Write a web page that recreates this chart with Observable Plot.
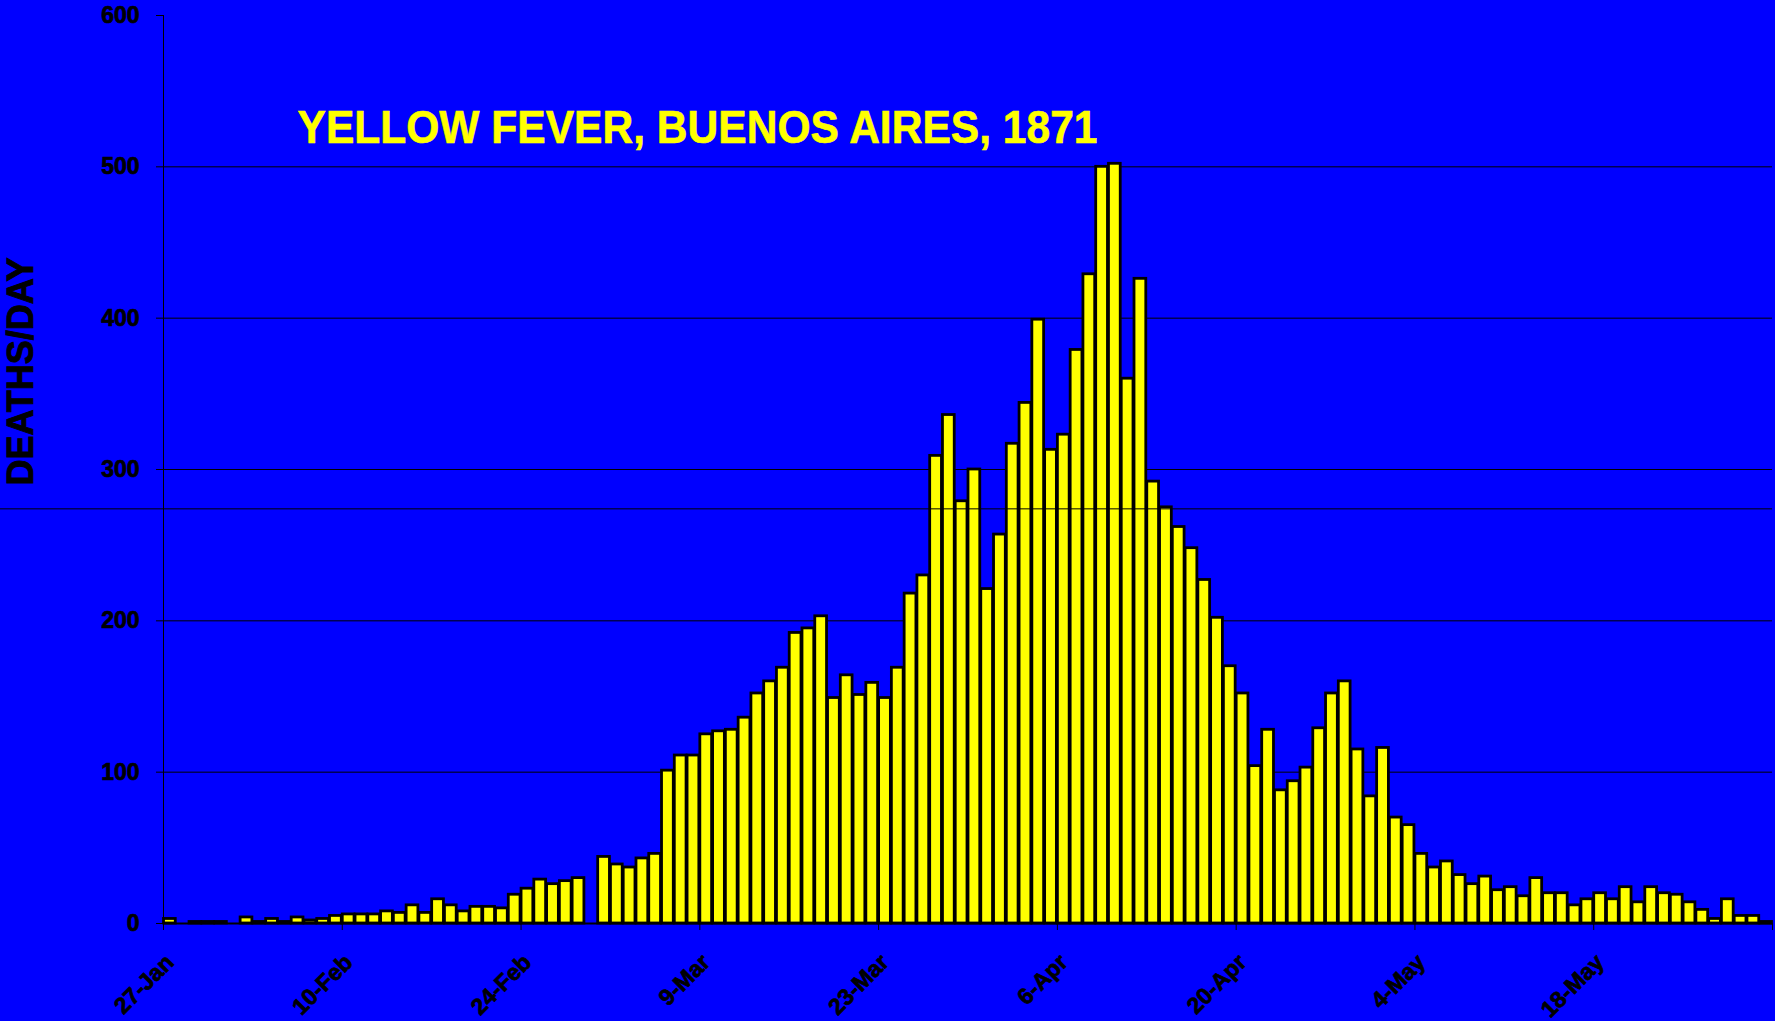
<!DOCTYPE html>
<html>
<head>
<meta charset="utf-8">
<script src="https://cdn.jsdelivr.net/npm/d3@7"></script>
<script src="https://cdn.jsdelivr.net/npm/@observablehq/plot@0.6"></script>
<style>
  html, body { margin: 0; padding: 0; background: #0000ff; }
  #chart { width: 1775px; height: 1021px; overflow: hidden; }
  #chart svg { display: block; }
  #chart svg g[aria-label$="tick label"] text { stroke: #000; stroke-width: 0.7px; }
  #chart svg .ylabel-mark text { stroke: #000; stroke-width: 0.9px; }
  #chart svg .title-mark text { stroke: #ffff00; stroke-width: 0.6px; }
</style>
</head>
<body>
<div id="chart"></div>
<script>
// Daily deaths, one bar per day from 27-Jan to 31-May
const deaths = [
  3, 0, 1, 1, 1, 0, 4, 1, 3, 1, 4, 2, 3, 5,
  6, 6, 6, 8, 7, 12, 7, 16, 12, 8, 11, 11, 10, 19,
  23, 29, 26, 28, 30, 0, 44, 39, 37, 43, 46, 101, 111, 111,
  125, 127, 128, 136, 152, 160, 169, 192, 195, 203, 149, 164, 151, 159,
  149, 169, 218, 230, 309, 336, 279, 300, 221, 257, 317, 344, 399, 313,
  323, 379, 429, 500, 502, 360, 426, 292, 275, 262, 248, 227, 202, 170,
  152, 104, 128, 88, 94, 103, 129, 152, 160, 115, 84, 116, 70, 65,
  46, 37, 41, 32, 26, 31, 22, 24, 18, 30, 20, 20, 12, 16,
  20, 16, 24, 14, 24, 20, 19, 14, 9, 3, 16, 5, 5, 1
];
// Category tick labels (every 14th day)
const tickLabels = ["27-Jan", "10-Feb", "24-Feb", "9-Mar", "23-Mar", "6-Apr", "20-Apr", "4-May", "18-May"];
const tickEvery = 14;
const yTicks = [0, 100, 200, 300, 400, 500, 600];
const gridValues = [100, 200, 300, 400, 500];
const strayLine = [274];
const titleText = "YELLOW FEVER, BUENOS AIRES, 1871";
const yLabel = "DEATHS/DAY";

const data = deaths.map((v, i) => ({ i, v }));
const n = deaths.length;
const font = "'Liberation Sans', Arial, sans-serif";

const chart = Plot.plot({
  width: 1775,
  height: 1021,
  marginLeft: 163,
  marginRight: 3,
  marginTop: 15,
  marginBottom: 98,
  style: { background: "#0000ff", color: "#000", fontFamily: font, overflow: "visible" },
  x: { type: "linear", domain: [0, n], axis: null },
  y: { domain: [0, 600], axis: null },
  marks: [
    Plot.gridY(gridValues, { stroke: "#000", strokeOpacity: 1, strokeWidth: 1 }),
    Plot.rect(data, {
      x1: "i", x2: d => d.i + 1, y1: d => 0, y2: "v",
      fill: "#ffff00", stroke: "#000", strokeWidth: 2.8,
      insetLeft: 0.5, insetRight: 0.5
    }),
    Plot.ruleY(strayLine, { stroke: "#000", strokeWidth: 1, insetLeft: -163 }),
    Plot.ruleX([0], { stroke: "#000", strokeWidth: 1 }),
    Plot.ruleY([0], { stroke: "#000", strokeWidth: 2 }),
    Plot.axisY(yTicks, {
      anchor: "left", tickSize: 7, tickPadding: 17,
      fontSize: 23, fontWeight: "bold", fill: "#000", stroke: "#000", label: null
    }),
    Plot.axisX(d3.range(0, n + 1, tickEvery), {
      anchor: "bottom", tickSize: 7, tickFormat: () => "", label: null, stroke: "#000"
    }),
    Plot.axisX(tickLabels.map((t, k) => k * tickEvery + 0.5), {
      anchor: "bottom", tickSize: 0, tickPadding: 35, tickRotate: -45,
      tickFormat: d => tickLabels[Math.round((d - 0.5) / tickEvery)],
      fontSize: 23, fontWeight: "bold", fill: "#000", label: null
    }),
    Plot.text([titleText], {
      frameAnchor: "top-left", dx: 134, dy: 127,
      textAnchor: "start", lineAnchor: "bottom",
      fill: "#ffff00", fontSize: 46, fontWeight: "bold", className: "title-mark"
    }),
    Plot.text([yLabel], {
      frameAnchor: "top-left", dx: -142, dy: 356, rotate: -90,
      textAnchor: "middle", lineAnchor: "middle",
      fill: "#000", fontSize: 36, fontWeight: "bold", className: "ylabel-mark"
    })
  ]
});

const t = chart.querySelector(".title-mark text");
if (t) { t.setAttribute("textLength", 800); t.setAttribute("lengthAdjust", "spacingAndGlyphs"); }

document.getElementById("chart").appendChild(chart);
</script>
</body>
</html>
